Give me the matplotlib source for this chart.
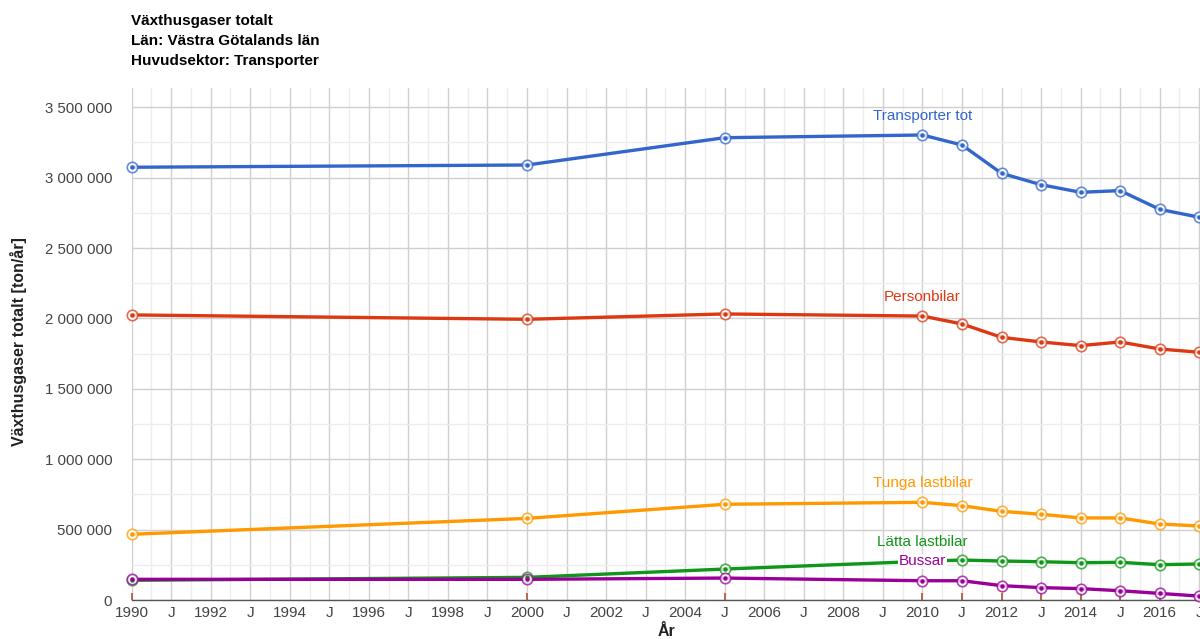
import matplotlib
matplotlib.use("Agg")
import matplotlib.pyplot as plt
import matplotlib.transforms as mtransforms
from matplotlib.ticker import MultipleLocator, FixedLocator, FixedFormatter

plt.rcParams['font.family'] = ['Liberation Sans', 'DejaVu Sans']

years = [1990, 2000, 2005, 2010, 2011, 2012, 2013, 2014, 2015, 2016, 2017]
transporter_tot = [3074000, 3090000, 3284000, 3303000, 3232000, 3031000, 2950000, 2896000, 2908000, 2775000, 2719000]
personbilar = [2025000, 1994000, 2032000, 2017000, 1961000, 1866000, 1833000, 1807000, 1833000, 1783000, 1760000]
tunga_lastbilar = [467000, 580000, 680000, 694000, 670000, 630000, 609000, 583000, 583000, 540000, 526000]
latta_lastbilar = [140000, 161000, 220000, 275000, 284000, 277000, 272000, 265000, 268000, 251000, 256000]
bussar = [147000, 147000, 156000, 137000, 137000, 102000, 88000, 81000, 66000, 47000, 28000]

series_names = ["Transporter tot", "Personbilar", "Tunga lastbilar", "Lätta lastbilar", "Bussar"]
series_values = [transporter_tot, personbilar, tunga_lastbilar, latta_lastbilar, bussar]
colors = ["#3366cc", "#dc3912", "#ff9900", "#109618", "#990099"]

tick_years = list(range(1990, 2018))
tick_labels = [str(y) if y % 2 == 0 else "J" for y in tick_years]
ytick_vals = [0, 500000, 1000000, 1500000, 2000000, 2500000, 3000000, 3500000]
ytick_labels = ["0", "500 000", "1 000 000", "1 500 000", "2 000 000", "2 500 000", "3 000 000", "3 500 000"]

title_lines = ["Växthusgaser totalt", "Län: Västra Götalands län", "Huvudsektor: Transporter"]
label_year = 2010

fig = plt.figure(figsize=(12, 6.39), dpi=100)
ax = fig.add_axes([0.1097, 0.0610, 0.8903, 0.8013])

ax.set_xlim(1990, 2017.02)
ax.set_ylim(0, 3637000)

ax.xaxis.set_major_locator(FixedLocator(tick_years))
ax.xaxis.set_major_formatter(FixedFormatter(tick_labels))
ax.xaxis.set_minor_locator(MultipleLocator(0.5))
ax.yaxis.set_major_locator(FixedLocator(ytick_vals))
ax.yaxis.set_major_formatter(FixedFormatter(ytick_labels))
ax.yaxis.set_minor_locator(MultipleLocator(250000))

ax.grid(which='minor', color='#ededed', linewidth=1.0, zorder=0)
ax.grid(which='major', color='#cfcfcf', linewidth=1.0, zorder=0)
ax.set_axisbelow(True)
ax.tick_params(which='both', length=0)
ax.tick_params(axis='x', labelsize=11, labelcolor='#444444', pad=4)
ax.tick_params(axis='y', labelsize=10.8, labelcolor='#444444', pad=14)

for s in ['top', 'right', 'left']:
    ax.spines[s].set_visible(False)
ax.spines['bottom'].set_color('#555555')
ax.spines['bottom'].set_linewidth(1.0)

# small ticks at data points
trans = mtransforms.blended_transform_factory(ax.transData, ax.transAxes)
ax.vlines(years, 0, 0.013, transform=trans, colors='#b0562a', linewidth=1.2, zorder=2, clip_on=False)

for name, vals, c in zip(series_names, series_values, colors):
    ax.plot(years, vals, color=c, linewidth=2.4, zorder=3, clip_on=False,
            solid_joinstyle='round')
    ax.plot(years, vals, linestyle='none', marker='o', markersize=7.5,
            markerfacecolor='white', markeredgecolor=c, markeredgewidth=1.2,
            alpha=0.75, zorder=4, clip_on=False)
    ax.plot(years, vals, linestyle='none', marker='o', markersize=2.2,
            color=c, zorder=5, clip_on=False)
    yv = vals[years.index(label_year)]
    kw = {}
    if name == "Bussar":
        kw['bbox'] = dict(boxstyle='square,pad=0.05', facecolor='white', edgecolor='none')
    ax.annotate(name, xy=(label_year, yv), xytext=(0, 14), textcoords='offset points',
                ha='center', va='center', fontsize=11, color=c, zorder=6, **kw)

for i, line in enumerate(title_lines):
    fig.text(131 / 1200, 1 - (21 + 20 * i) / 639, line, fontsize=11, fontweight='bold',
             ha='left', va='center', color='#000000')

fig.text(19 / 1200, 1 - 342 / 639, "Växthusgaser totalt [ton/år]", rotation=90,
         fontsize=11.5, fontweight='bold', ha='center', va='center', color='#222222')
fig.text(667 / 1200, 1 - 632 / 639, "År", fontsize=11.5, fontweight='bold',
         ha='center', va='center', color='#222222')

fig.savefig("out.png", dpi=100)
